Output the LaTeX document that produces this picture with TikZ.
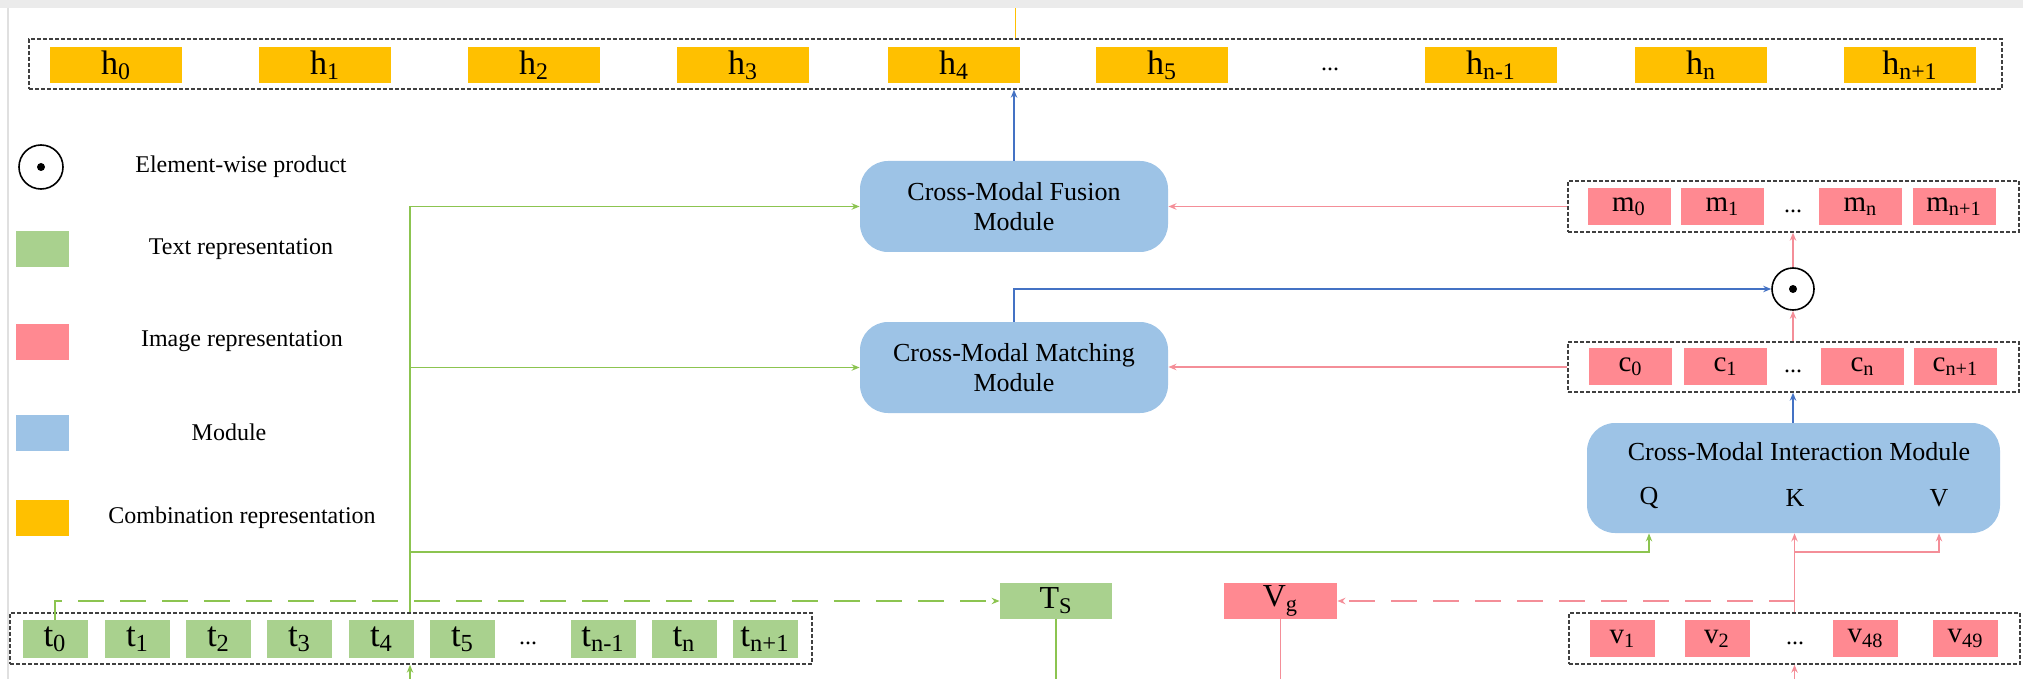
\documentclass[tikz,border=0pt]{standalone}
\usepackage{fontspec}
\setmainfont{Liberation Serif}
\usetikzlibrary{arrows.meta}
\definecolor{cGold}{RGB}{255,192,0}
\definecolor{cTGreen}{RGB}{169,209,142}
\definecolor{cIPink}{RGB}{255,137,145}
\definecolor{cMBlue}{RGB}{157,195,230}
\definecolor{cGLine}{RGB}{140,196,80}
\definecolor{cPLine}{RGB}{244,142,152}
\definecolor{cBLine}{RGB}{68,114,196}
\definecolor{cGoldLine}{RGB}{255,192,0}
\begin{document}
\begin{tikzpicture}[x=0.5pt,y=-0.5pt,
  lbl/.style={font=\fontsize{14.5}{14.5}\selectfont, inner sep=0pt},
  hcell/.style={lbl, font=\fontsize{17}{17}\selectfont, fill=cGold, minimum width=66pt, minimum height=18pt},
  tcell/.style={lbl, font=\fontsize{17.5}{17.5}\selectfont, fill=cTGreen, minimum width=32.5pt, minimum height=19pt},
  mcell/.style={lbl, fill=cIPink, minimum width=41.5pt, minimum height=18.5pt},
  vcell/.style={lbl, fill=cIPink, minimum width=32.5pt, minimum height=18.5pt},
  dots/.style={font=\fontsize{12}{12}\selectfont, inner sep=0pt},
  grp/.style={draw=black!75, dash pattern=on 2pt off 1pt, line width=0.7pt, inner sep=0pt},
  module/.style={fill=cMBlue, rounded corners=14pt, inner sep=0pt, align=center, font=\fontsize{13}{15}\selectfont},
  modtext/.style={font=\fontsize{13}{15}\selectfont, inner sep=0pt},
  legtext/.style={font=\fontsize{12}{14}\selectfont, inner sep=0pt},
  legbox/.style={minimum width=26.5pt, minimum height=18pt, inner sep=0pt},
  arr/.style={-{Stealth[length=4pt,width=3.2pt]}},
  gconn/.style={draw=cGLine, line width=0.9pt},
  pconn/.style={draw=cPLine, line width=0.9pt},
  bconn/.style={draw=cBLine, line width=0.9pt},
  gdash/.style={gconn, line width=1.1pt, dash pattern=on 13pt off 8pt},
  pdash/.style={pconn, line width=1.1pt, dash pattern=on 13pt off 8pt},
]
\useasboundingbox (0,0) rectangle (2023,679);
% screenshot edges
\fill[black!8] (0,0) rectangle (2023,8);
\draw[black!12, line width=0.8pt] (8,8) -- (8,679);

% ---- top combination row
\node[grp, minimum width=986.5pt, minimum height=25pt] (hgroup) at (1015.5,64) {};
\node[hcell] (h0) at (116,65) {h\textsubscript{0}};
\node[hcell] (h1) at (325,65) {h\textsubscript{1}};
\node[hcell] (h2) at (534,65) {h\textsubscript{2}};
\node[hcell] (h3) at (743,65) {h\textsubscript{3}};
\node[hcell] (h4) at (954,65) {h\textsubscript{4}};
\node[hcell] (h5) at (1162,65) {h\textsubscript{5}};
\node[dots] (hd) at (1330,69) {...};
\node[hcell] (hn1) at (1491,65) {h\textsubscript{n-1}};
\node[hcell] (hn) at (1701,65) {h\textsubscript{n}};
\node[hcell] (hnp) at (1910,65) {h\textsubscript{n+1}};
\coordinate (goldtop) at (1015.5,8);
\draw[draw=cGoldLine, line width=0.9pt] (hgroup.north) -- (goldtop);

% ---- legend
\node[draw, circle, line width=0.8pt, minimum size=22pt, inner sep=0pt] (legodot) at (41,167) {};
\fill (legodot.center) circle (2pt);
\node[legtext] (lt1) at (241,167) {Element-wise product};
\node[legbox, fill=cTGreen] (lg2) at (42.5,249) {};
\node[legtext] (lt2) at (241,249) {Text representation};
\node[legbox, fill=cIPink] (lg3) at (42.5,341.5) {};
\node[legtext] (lt3) at (242,341) {Image representation};
\node[legbox, fill=cMBlue] (lg4) at (42.5,432.5) {};
\node[legtext] (lt4) at (229,432) {Module};
\node[legbox, fill=cGold] (lg5) at (42.5,517.5) {};
\node[legtext] (lt5) at (242,518) {Combination representation};

% ---- modules
\node[module, minimum width=154pt, minimum height=45.5pt] (fusion) at (1014,206.5) {Cross-Modal Fusion\\Module};
\node[module, minimum width=154pt, minimum height=45.5pt] (matching) at (1014,367.5) {Cross-Modal Matching\\Module};
\node[module, minimum width=206.5pt, minimum height=55pt] (inter) at (1793.5,478) {};
\node[modtext] (intertitle) at (1799,452) {Cross-Modal Interaction Module};
\node[modtext] (Q) at (1649,498) {Q};
\node[modtext] (K) at (1795,498) {K};
\node[modtext] (V) at (1939,498) {V};

% ---- m row
\node[grp, minimum width=225.5pt, minimum height=25.5pt] (mgroup) at (1793.5,206.5) {};
\node[mcell] (m0) at (1629,206.5) {m\textsubscript{0}};
\node[mcell] (m1) at (1722.5,206.5) {m\textsubscript{1}};
\node[dots] (md) at (1793,211) {...};
\node[mcell] (mn) at (1860.5,206.5) {m\textsubscript{n}};
\node[mcell] (mnp) at (1954,206.5) {m\textsubscript{n+1}};

% ---- odot
\node[draw, circle, line width=0.8pt, minimum size=21pt, inner sep=0pt] (odot) at (1793,289) {};
\fill (odot.center) circle (2pt);

% ---- c row
\node[grp, minimum width=225.5pt, minimum height=25pt] (cgroup) at (1793.5,367) {};
\node[mcell] (c0) at (1630.5,366.5) {c\textsubscript{0}};
\node[mcell] (c1) at (1725.5,366.5) {c\textsubscript{1}};
\node[dots] (cd) at (1793,371) {...};
\node[mcell] (cn) at (1862.5,366.5) {c\textsubscript{n}};
\node[mcell] (cnp) at (1955.5,366.5) {c\textsubscript{n+1}};

% ---- t row
\node[grp, minimum width=401pt, minimum height=25.5pt] (tgroup) at (411,638.5) {};
\node[tcell] (t0) at (55,639) {t\textsubscript{0}};
\node[tcell] (t1) at (137.5,639) {t\textsubscript{1}};
\node[tcell] (t2) at (218.5,639) {t\textsubscript{2}};
\node[tcell] (t3) at (299.5,639) {t\textsubscript{3}};
\node[tcell] (t4) at (381.5,639) {t\textsubscript{4}};
\node[tcell] (t5) at (462.5,639) {t\textsubscript{5}};
\node[dots] (td) at (528,643) {...};
\node[tcell] (tn1) at (603,639) {t\textsubscript{n-1}};
\node[tcell] (tn) at (684,639) {t\textsubscript{n}};
\node[tcell] (tnp) at (765,639) {t\textsubscript{n+1}};

% ---- v row
\node[grp, minimum width=225.5pt, minimum height=25.5pt] (vgroup) at (1794.5,638.5) {};
\node[vcell] (v1) at (1622.5,638.5) {v\textsubscript{1}};
\node[vcell] (v2) at (1717,638.5) {v\textsubscript{2}};
\node[dots] (vd) at (1795,643) {...};
\node[vcell] (v48) at (1865.5,638.5) {v\textsubscript{48}};
\node[vcell] (v49) at (1965.5,638.5) {v\textsubscript{49}};

% ---- global vectors
\node[lbl, fill=cTGreen, minimum width=56pt, minimum height=18pt, font=\fontsize{16}{16}\selectfont] (TS) at (1056,601) {T\textsubscript{S}};
\node[lbl, fill=cIPink, minimum width=56.5pt, minimum height=18pt, font=\fontsize{16}{16}\selectfont] (Vg) at (1280.5,601) {V\textsubscript{g}};

% ---- connectors
% blue
\draw[bconn, arr] (fusion.north) -- (fusion.north |- hgroup.south);
\draw[bconn, arr] (matching.north) |- (odot.west);
\draw[bconn, arr] (inter.north -| odot) -- (cgroup.south -| odot);
% pink
\draw[pconn, arr] (mgroup.west) -- (fusion.east);
\draw[pconn, arr] (cgroup.west) -- (matching.east |- cgroup.west);
\draw[pconn, arr] (cgroup.north -| odot) -- (odot.south);
\draw[pconn, arr] (odot.north) -- (mgroup.south -| odot);
% green trunk
\coordinate (gtop) at (410,206.5);
\coordinate (gmid) at (410,552);
\draw[gconn] (tgroup.north -| gtop) -- (gtop);
\draw[gconn, arr] (gtop) -- (fusion.west);
\draw[gconn, arr] (gtop |- matching.west) -- (matching.west);
\draw[gconn, arr] (gmid) -| (inter.south -| Q);
\coordinate (tin) at (410,679);
\draw[gconn, arr] (tin) -- (tgroup.south -| tin);
\draw[gdash, arr] (t0.north) |- (TS.west);
\coordinate (tsout) at (1056,679);
\draw[gconn] (TS.south) -- (tsout);
% pink bottom
\coordinate (pmid) at (1794.5,552);
\draw[pconn, arr] (vgroup.north) -- (vgroup.north |- inter.south);
\draw[pconn, arr] (pmid) -| (inter.south -| V);
\draw[pdash, arr] (vgroup.north |- Vg.east) -- (Vg.east);
\coordinate (vgout) at (1280.5,679);
\draw[pconn] (Vg.south) -- (vgout);
\coordinate (vin) at (1794.5,679);
\draw[pconn, arr] (vin) -- (vgroup.south);
\end{tikzpicture}
\end{document}
